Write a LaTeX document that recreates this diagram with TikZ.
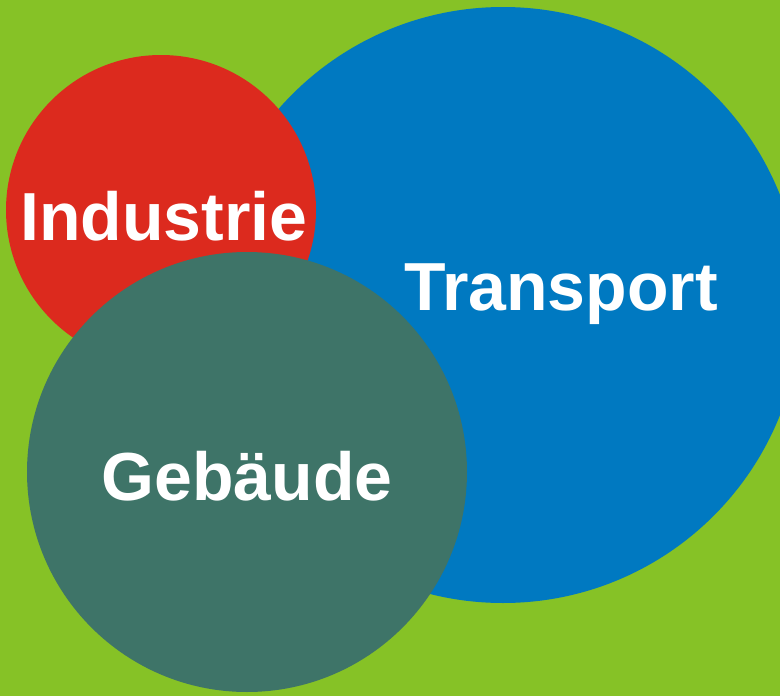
\documentclass[tikz,border=0pt]{standalone}
\usepackage{fontspec}
\setmainfont{Liberation Sans}
\definecolor{bggreen}{HTML}{86C226}
\definecolor{indred}{HTML}{DC2A1E}
\definecolor{trblue}{HTML}{0079C1}
\definecolor{gebteal}{HTML}{3E7468}
\tikzset{
  sector/.style={circle, inner sep=0pt, outer sep=0pt},
  sectorlabel/.style={anchor=base, text=white, inner sep=0pt,
    font=\fontsize{68}{68}\selectfont\bfseries}
}
\begin{document}
\begin{tikzpicture}[x=1pt,y=-1pt]
  \useasboundingbox (0,0) rectangle (780,696);
  \clip (0,0) rectangle (780,696);
  \fill[bggreen] (0,0) rectangle (780,696);
    % circles, back to front
    \node[sector, fill=trblue,  minimum size=596pt] (transport) at (503,305) {};
    \node[sector, fill=indred,  minimum size=310pt] (industrie) at (161,210) {};
    \node[sector, fill=gebteal, minimum size=440pt] (gebaeude)  at (247,472) {};
    % labels
    \node[sectorlabel] (industrietext) at (164,240) {Industrie};
    \node[sectorlabel] (transporttext) at (561,310) {Transport};
    \node[sectorlabel] (gebaeudetext)  at (247,500) {Gebäude};
\end{tikzpicture}
\end{document}
